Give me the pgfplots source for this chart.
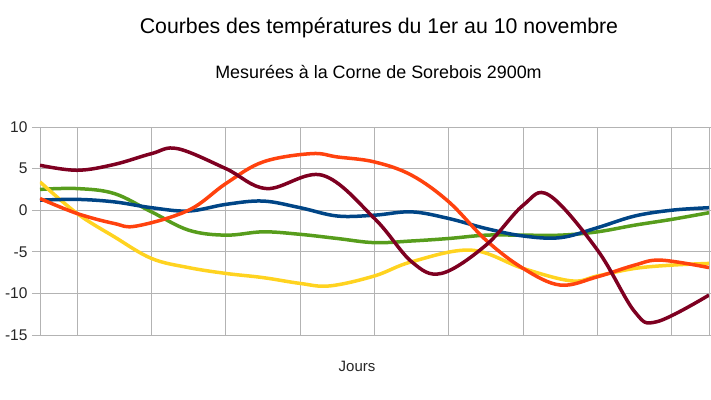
\documentclass[border=0pt]{standalone}
\usepackage{fontspec}
\setmainfont{Liberation Sans}
\usepackage{pgfplots}
\pgfplotsset{compat=1.18}

\definecolor{lblue}{HTML}{004586}
\definecolor{lorange}{HTML}{FF420E}
\definecolor{lyellow}{HTML}{FFD320}
\definecolor{lgreen}{HTML}{579D1C}
\definecolor{lmaroon}{HTML}{7E0021}
\definecolor{gridgray}{HTML}{B3B3B3}

\begin{document}
\begin{tikzpicture}[x=1bp,y=1bp]
\begin{axis}[
    scale only axis,
    width=669bp, height=208bp,
    xmin=0, xmax=18,
    ymin=-15, ymax=10,
    xtick={1,3,...,17},
    xticklabels={},
    ytick={-15,-10,-5,0,5,10},
    yticklabels={-15,-10,-5,0,5,10},
    xmajorgrids, ymajorgrids,
    grid style={gridgray, line width=0.8bp},
    axis line style={gridgray, line width=0.8bp},
    major tick length=8bp,
    xtick style={draw=none},
    ytick style={gridgray, line width=0.8bp},
    tick align=outside,
    yticklabel style={font=\fontsize{15.5bp}{18bp}\selectfont, text=black!85, xshift=-1bp},
    every axis plot/.append style={line width=3.5bp, smooth, tension=0.6, no marks},
    clip=true,
]
\coordinate (bl) at (rel axis cs:0,0);

% vert
\addplot[lgreen] coordinates {
  (0,2.5) (1,2.6) (2,2.0) (3,-0.2) (4,-2.4) (5,-3.0) (6,-2.6) (7,-2.9) (8,-3.4)
  (9,-3.9) (10,-3.7) (11,-3.4) (12,-3.0) (13,-3.0) (14,-3.0) (15,-2.6) (16,-1.8)
  (17,-1.1) (18,-0.3)
};
% jaune
\addplot[lyellow] coordinates {
  (0,3.4) (1,-0.4) (2,-3.2) (3,-5.8) (4,-6.9) (5,-7.6) (6,-8.1) (7,-8.8) (7.8,-9.1)
  (9,-7.9) (10,-6.2) (11.6,-4.8) (13,-7.0) (14.3,-8.5) (15,-7.9)
  (16,-7.0) (17,-6.6) (18,-6.4)
};
% bleu
\addplot[lblue] coordinates {
  (0,1.2) (1,1.3) (2,1.0) (3,0.3) (4,-0.1) (5,0.7) (6,1.1) (7,0.3) (8,-0.7)
  (9,-0.6) (10,-0.2) (11,-1.0) (12,-2.2) (13,-3.1) (14,-3.3) (15,-2.1) (16,-0.7)
  (17,0.0) (18,0.3)
};
% orange
\addplot[lorange] coordinates {
  (0,1.4) (1,-0.4) (2,-1.6) (2.6,-1.9) (4,0.0) (5,3.2) (6,5.8) (7.3,6.8)
  (8,6.4) (9,5.8) (10,4.2) (11,1.0) (12,-3.6) (13,-7.0) (14,-9.0) (15,-8.0)
  (16,-6.6) (16.7,-6.0) (18,-6.9)
};
% bordeaux
\addplot[lmaroon] coordinates {
  (0,5.4) (1,4.8) (2,5.5) (3,6.8) (3.7,7.4) (5,5.0) (6.1,2.6) (7.6,4.2)
  (9,-1.0) (10,-6.2) (10.8,-7.6) (12,-4.2) (13,0.6) (13.7,1.8) (15,-4.8)
  (16,-12.2) (16.6,-13.4) (18,-10.2)
};
\end{axis}

\node[font=\fontsize{21.3bp}{25bp}\selectfont, text=black] at ([shift={(339bp,307bp)}]bl) {Courbes des températures du 1er au 10 novembre};
\node[font=\fontsize{17.9bp}{21bp}\selectfont, text=black] at ([shift={(338.5bp,263bp)}]bl) {Mesurées à la Corne de Sorebois 2900m};
\node[font=\fontsize{15bp}{18bp}\selectfont, text=black!85] at ([shift={(317bp,-31bp)}]bl) {Jours};

\pgfresetboundingbox
\path[use as bounding box] ([shift={(-40bp,-65bp)}]bl) rectangle ++(711bp,400bp);
\end{tikzpicture}
\end{document}
